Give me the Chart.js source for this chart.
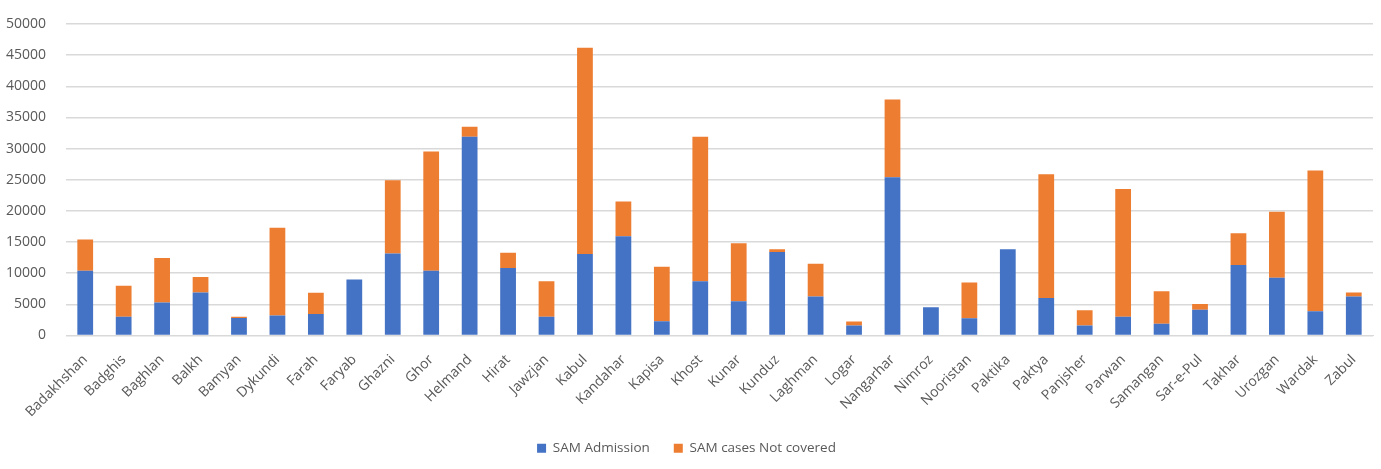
<!DOCTYPE html>
<html>
<head>
<meta charset="utf-8">
<script src="https://cdn.jsdelivr.net/npm/chart.js@4/dist/chart.umd.min.js"></script>
<style>
  html, body { margin: 0; padding: 0; background: #fff; }
  #wrap { width: 1381px; height: 469px; position: relative; }
</style>
</head>
<body>
<div id="wrap"><canvas id="chart"></canvas></div>
<script>
// provinces on the x axis
const provinces = [
  'Badakhshan', 'Badghis', 'Baghlan', 'Balkh', 'Bamyan', 'Dykundi', 'Farah', 'Faryab',
  'Ghazni', 'Ghor', 'Helmand', 'Hirat', 'Jawzjan', 'Kabul', 'Kandahar', 'Kapisa',
  'Khost', 'Kunar', 'Kunduz', 'Laghman', 'Logar', 'Nangarhar', 'Nimroz', 'Nooristan',
  'Paktika', 'Paktya', 'Panjsher', 'Parwan', 'Samangan', 'Sar-e-Pul', 'Takhar',
  'Urozgan', 'Wardak', 'Zabul'
];

// SAM admissions (blue, bottom of stack)
const samAdmission = [
  10400, 3000, 5300, 6900, 2800, 3200, 3450, 9000,
  13150, 10400, 31900, 10850, 3000, 13100, 15950, 2300,
  8700, 5500, 13400, 6250, 1600, 25400, 4550, 2750,
  13850, 6000, 1600, 3000, 1900, 4150, 11300,
  9250, 3900, 6250
];

// SAM cases not covered (orange, top of stack)
const samNotCovered = [
  5000, 5000, 7150, 2500, 200, 14100, 3400, 0,
  11750, 19150, 1600, 2450, 5700, 33100, 5550, 8750,
  23200, 9300, 450, 5250, 650, 12500, 0, 5750,
  0, 19900, 2450, 20500, 5200, 900, 5100,
  10600, 22600, 650
];

const yTicks = { min: 0, max: 50000, step: 5000 };

const textColor = '#595959';
const gridColor = '#d9d9d9';
const fontFamily = '"Open Sans", "Noto Sans", sans-serif';

new Chart(document.getElementById('chart'), {
  type: 'bar',
  data: {
    labels: provinces,
    datasets: [
      {
        label: 'SAM Admission',
        data: samAdmission,
        backgroundColor: '#4472C4',
        barPercentage: 0.41,
        categoryPercentage: 1
      },
      {
        label: 'SAM cases Not covered',
        data: samNotCovered,
        backgroundColor: '#ED7D31',
        barPercentage: 0.41,
        categoryPercentage: 1
      }
    ]
  },
  options: {
    responsive: true,
    maintainAspectRatio: false,
    animation: false,
    layout: { padding: { top: 24, right: 8, left: 0, bottom: 4 } },
    plugins: {
      legend: {
        position: 'bottom',
        labels: {
          boxWidth: 9,
          boxHeight: 9,
          padding: 24,
          color: textColor,
          font: { family: fontFamily, size: 13.5 }
        }
      },
      tooltip: { enabled: false }
    },
    scales: {
      x: {
        stacked: true,
        grid: { display: false },
        border: { color: gridColor },
        ticks: {
          color: textColor,
          minRotation: 45,
          maxRotation: 45,
          autoSkip: false,
          padding: 8,
          font: { family: fontFamily, size: 14 }
        },
        afterFit: (axis) => { axis.height = 82; }
      },
      y: {
        stacked: true,
        min: yTicks.min,
        max: yTicks.max,
        border: { display: false },
        grid: { color: gridColor, lineWidth: 1.5, drawTicks: false },
        ticks: {
          stepSize: yTicks.step,
          color: textColor,
          padding: 20,
          font: { family: fontFamily, size: 14 },
          callback: (value) => String(value)
        },
        // fix the label column and top edge to match the reference layout
        afterFit: (axis) => {
          axis.width = 66;
          axis.paddingTop = 0;
        }
      }
    }
  }
});
</script>
</body>
</html>
